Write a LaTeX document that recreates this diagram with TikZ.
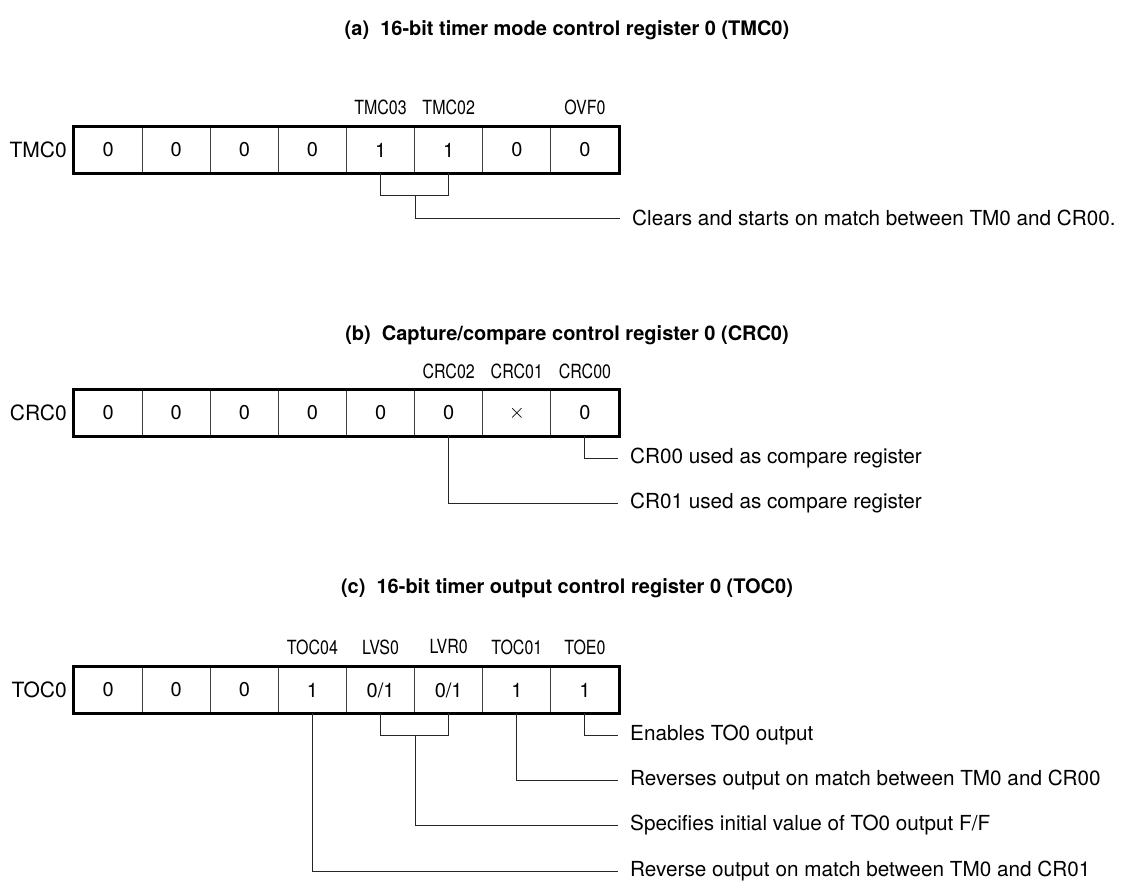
\documentclass[tikz,border=0pt]{standalone}
\usepackage{fontspec}
\setmainfont{TeX Gyre Heros}
\usepackage{graphicx}
\newcommand{\cnd}[1]{\scalebox{0.82}[1]{#1}}
\begin{document}
\begin{tikzpicture}[x=1pt,y=-1pt,
  cell/.style={draw=black!75,line width=0.9pt,minimum width=68.1pt,minimum height=46pt,inner sep=0pt,anchor=center,font=\fontsize{20}{24}\selectfont},
  frame/.style={draw=black,line width=2.6pt},
  regname/.style={anchor=east,inner sep=0pt,font=\fontsize{21}{25}\selectfont},
  bitname/.style={inner sep=0pt,font=\fontsize{19.5}{23}\selectfont},
  desc/.style={anchor=west,inner sep=0pt,font=\fontsize{20.7}{24}\selectfont},
  title/.style={inner sep=0pt,font=\fontsize{20}{24}\selectfont\bfseries},
  conn/.style={draw=black!85,line width=0.9pt}]
\useasboundingbox (0,0) rectangle (1131,884);

% ---------- (a) TMC0 ----------
\node[title] (ta) at (567,30) {(a)\ \ 16-bit timer mode control register 0 (TMC0)};
\foreach \v [count=\i] in {0,0,0,0,1,1,0,0}
  \node[cell] (a\i) at ({74+68.125*(\i-0.5)},150) {\v};
\draw[frame] (a1.north west) rectangle (a8.south east);
\node[regname] (na) at (67,150) {TMC0};
\node[bitname] (la5) at (a5.center |- 0,107) {\cnd{TMC03}};
\node[bitname] (la6) at (a6.center |- 0,107) {\cnd{TMC02}};
\node[bitname] (la8) at (a8.center |- 0,107) {\cnd{OVF0}};
\node[desc] (da) at (632,218) {Clears and starts on match between TM0 and CR00.};
\draw[conn] (a5.south) -- (a5.center |- 0,195) -| (a6.south);
\draw[conn] (a5.south east |- 0,195) |- ([xshift=-12pt]da.west);

% ---------- (b) CRC0 ----------
\node[title] (tb) at (567,335) {(b)\ \ Capture/compare control register 0 (CRC0)};
\foreach \v [count=\i] in {0,0,0,0,0,0,$\times$,0}
  \node[cell] (b\i) at ({74+68.125*(\i-0.5)},413) {\v};
\draw[frame] (b1.north west) rectangle (b8.south east);
\node[regname] (nb) at (67,413) {CRC0};
\node[bitname] (lb6) at (b6.center |- 0,371) {\cnd{CRC02}};
\node[bitname] (lb7) at (b7.center |- 0,371) {\cnd{CRC01}};
\node[bitname] (lb8) at (b8.center |- 0,371) {\cnd{CRC00}};
\node[desc] (db1) at (630,458) {CR00 used as compare register};
\node[desc] (db2) at (630,503) {CR01 used as compare register};
\draw[conn] (b8.south) |- ([xshift=-12pt]db1.west);
\draw[conn] (b6.south) |- ([xshift=-12pt]db2.west);

% ---------- (c) TOC0 ----------
\node[title] (tc) at (567,588) {(c)\ \ 16-bit timer output control register 0 (TOC0)};
\foreach \v [count=\i] in {0,0,0,1,0/1,0/1,1,1}
  \node[cell] (c\i) at ({74+68.125*(\i-0.5)},690) {\v};
\draw[frame] (c1.north west) rectangle (c8.south east);
\node[regname] (nc) at (67,690) {TOC0};
\node[bitname] (lc4) at (c4.center |- 0,647) {\cnd{TOC04}};
\node[bitname] (lc5) at (c5.center |- 0,647) {\cnd{LVS0}};
\node[bitname] (lc6) at (c6.center |- 0,647) {\cnd{LVR0}};
\node[bitname] (lc7) at (c7.center |- 0,647) {\cnd{TOC01}};
\node[bitname] (lc8) at (c8.center |- 0,647) {\cnd{TOE0}};
\node[desc] (dc1) at (630,735) {Enables TO0 output};
\node[desc] (dc2) at (630,780) {Reverses output on match between TM0 and CR00};
\node[desc] (dc3) at (630,825.5) {Specifies initial value of TO0 output F/F};
\node[desc] (dc4) at (630,871) {Reverse output on match between TM0 and CR01};
\draw[conn] (c8.south) |- ([xshift=-12pt]dc1.west);
\draw[conn] (c7.south) |- ([xshift=-12pt]dc2.west);
\draw[conn] (c5.south) -- (c5.center |- 0,735) -| (c6.south);
\draw[conn] (c5.south east |- 0,735) |- ([xshift=-12pt]dc3.west);
\draw[conn] (c4.south) |- ([xshift=-12pt]dc4.west);
\end{tikzpicture}
\end{document}
